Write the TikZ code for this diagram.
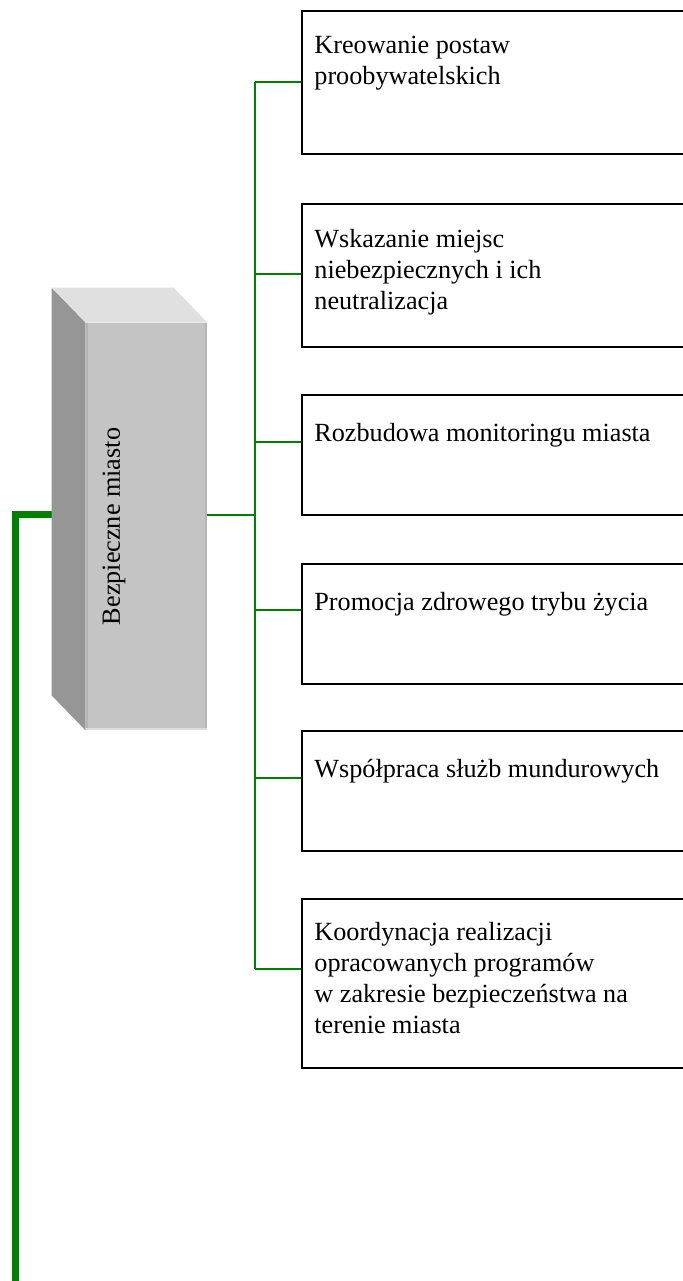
\documentclass[tikz,border=0pt]{standalone}
\usepackage{fontspec}
\setmainfont{Liberation Serif}
\usetikzlibrary{calc}
\definecolor{lgreen}{HTML}{008000}
\definecolor{boxfront}{HTML}{C4C4C4}
\definecolor{boxedge}{HTML}{B4B4B4}
\definecolor{boxside}{HTML}{969696}
\definecolor{boxtop}{HTML}{E0E0E0}
\tikzset{
  branch/.style={draw=lgreen, line width=1pt},
  mainline/.style={draw=lgreen, line width=3.5pt},
  taskbox/.style={draw=black, line width=1pt, anchor=north west, minimum width=200pt, inner sep=0pt},
  tasktext/.style={anchor=north west, align=left, inner sep=0pt, font=\fontsize{13.1}{15.5}\selectfont, execute at begin node=\strut},
}

\begin{document}
\begin{tikzpicture}[x=0.5pt, y=-0.5pt]
    \useasboundingbox (0,0) rectangle (683,1281);
    \clip (0,0) rectangle (683,1281);
    \node[taskbox, minimum height=71.5pt] (k1) at (301,10) {};
    \node[taskbox, minimum height=71.5pt] (k2) at (301,203) {};
    \node[taskbox, minimum height=60pt] (k3) at (301,394) {};
    \node[taskbox, minimum height=60pt] (k4) at (301,563) {};
    \node[taskbox, minimum height=60pt] (k5) at (301,730) {};
    \node[taskbox, minimum height=84.5pt] (k6) at (301,898) {};
    \node[tasktext] (t1) at ($(k1.north west)+(13,25.5)$) {Kreowanie postaw\\proobywatelskich};
    \node[tasktext] (t2) at ($(k2.north west)+(13,25.5)$) {Wskazanie miejsc\\niebezpiecznych i ich\\neutralizacja};
    \node[tasktext] (t3) at ($(k3.north west)+(13,25)$) {Rozbudowa monitoringu miasta};
    \node[tasktext] (t4) at ($(k4.north west)+(13,25)$) {Promocja zdrowego trybu życia};
    \node[tasktext] (t5) at ($(k5.north west)+(13,25)$) {Współpraca służb mundurowych};
    \node[tasktext] (t6) at ($(k6.north west)+(13,24)$) {Koordynacja realizacji\\opracowanych programów\\w zakresie bezpieczeństwa na\\terenie miasta};
    \coordinate (c1) at ($(k1.north west)+(0,72)$);
    \coordinate (c2) at ($(k2.north west)+(0,71)$);
    \coordinate (c3) at ($(k3.north west)+(0,48)$);
    \coordinate (c4) at ($(k4.north west)+(0,47)$);
    \coordinate (c5) at ($(k5.north west)+(0,48)$);
    \coordinate (c6) at ($(k6.north west)+(0,71)$);
    \coordinate (trunk) at (254.5,0);
    \node[fill=boxfront, minimum width=60.5pt, minimum height=203.5pt, inner sep=0pt] (bm) at (146.5,526.5) {};
    \coordinate (mc) at ($(bm.east)+(0,-12)$);
    \coordinate (lineend) at (15,1290);
    \draw[mainline] ($(bm.west)+(-34,-12)$) -| (lineend);
    \fill[boxside] (bm.north west) -- ++(-34,-35) -- ($(bm.south west)+(-34,-35)$) -- (bm.south west) -- cycle;
    \fill[boxtop] (bm.north west) -- ++(-34,-35) -- ($(bm.north east)+(-34,-35)$) -- (bm.north east) -- cycle;
    \draw[boxedge, line width=1pt] ($(bm.north west)+(1,0)$) -- ($(bm.south west)+(1,0)$);
    \draw[boxedge, line width=1pt] ($(bm.north east)+(-1,0)$) -- ($(bm.south east)+(-1,0)$);
    \draw[boxtop!90!boxfront, line width=1pt] ($(bm.south west)+(0,-1)$) -- ($(bm.south east)+(0,-1)$);
    \node[rotate=90, inner sep=0pt, font=\fontsize{13.1}{15.5}\selectfont] (bml) at ($(bm.center)+(-32.5,0)$) {Bezpieczne miasto};
    \draw[branch] (mc) -- (trunk |- mc);
    \draw[branch] (trunk |- c1) -- (trunk |- c6);
    \foreach \i in {1,...,6}
    \draw[branch] (trunk |- c\i) -- (c\i);
\end{tikzpicture}
\end{document}
